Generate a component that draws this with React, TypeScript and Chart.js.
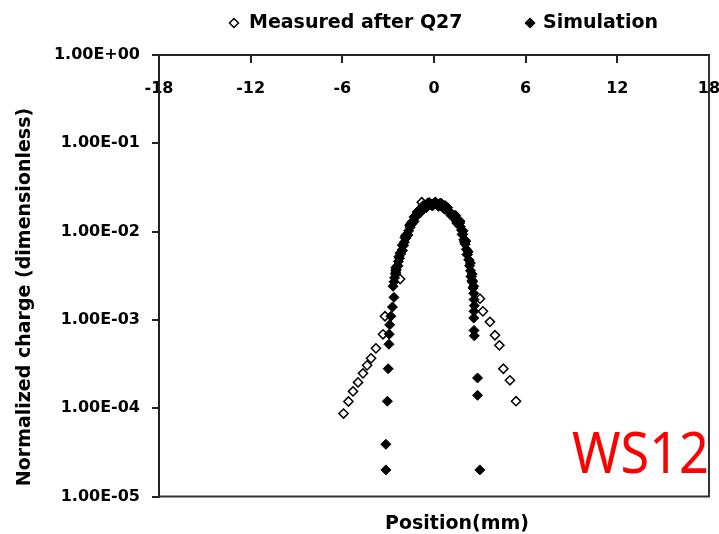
import React, { useEffect, useRef } from 'react';
import { Chart, registerables } from 'chart.js';

Chart.register(...registerables);

// Axis ticks
const xTickValues = [-18, -12, -6, 0, 6, 12, 18];
const yTickValues = [1e-5, 1e-4, 1e-3, 1e-2, 1e-1, 1];
const yTickLabels = ['1.00E-05', '1.00E-04', '1.00E-03', '1.00E-02', '1.00E-01', '1.00E+00'];

// Series labels and captions
const seriesLabels = ['Measured after Q27', 'Simulation'];
const xTitle = 'Position(mm)';
const yTitle = 'Normalized charge (dimensionless)';
const stampText = 'WS12';

// Measured profile after Q27 (position in mm, normalized charge)
const measuredX = [
  -5.92, -5.6, -5.3, -4.97, -4.65, -4.38, -4.12, -3.8, -3.34, -3.21,
  -2.5, -2.22, -2.0, -1.5, -1.0, -0.8, -0.5, 0.0, 0.5, 1.0, 1.5, 2.0, 2.5,
  3.01, 3.2, 3.66, 3.99, 4.28, 4.54, 4.97, 5.37,
];
const measuredY = [
  8.7e-5, 1.19e-4, 1.55e-4, 1.96e-4, 2.48e-4, 3.06e-4, 3.67e-4, 4.76e-4, 6.87e-4, 1.1e-3,
  3.4e-3, 2.9e-3, 7.0e-3, 1.2e-2, 1.65e-2, 2.15e-2, 1.95e-2, 2.05e-2, 1.96e-2, 1.68e-2, 1.3e-2, 7.6e-3, 2.8e-3,
  1.74e-3, 1.25e-3, 9.5e-4, 6.7e-4, 5.15e-4, 2.8e-4, 2.07e-4, 1.2e-4,
];

// Simulated profile (position in mm, normalized charge)
const simX = [
  -3.15, -3.15, -3.05, -3.0, -2.95, -2.93, -2.9, -2.82, -2.72, -2.62,
  -2.68, -2.62, -2.58, -2.52, -2.47, -2.4, -2.33, -2.26, -2.18, -2.1,
  -2.02, -1.94, -1.85, -1.76, -1.66, -1.56, -1.46, -1.36, -1.26, -1.16,
  -1.06, -0.96, -0.86, -0.76, -0.66, -0.56, -0.46, -0.36, -0.26, -0.16,
  -0.06, 0.04, 0.14, 0.24, 0.34, 0.44, 0.54, 0.64, 0.74, 0.84,
  0.94, 1.04, 1.14, 1.24, 1.34, 1.44, 1.54, 1.64, 1.72, 1.8,
  1.88, 1.96, 2.04, 2.12, 2.2, 2.27, 2.33, 2.39, 2.45, 2.5,
  2.55, 2.6, 2.62, 2.64, 2.62, 2.6, 2.62, 2.64, 2.85, 2.85, 3.0,
  -2.5, -2.36, -2.22, -2.06, -1.9, -1.71, -1.51, -1.31, -1.11, -0.91,
  -0.71, -0.51, -0.31, -0.11, 0.09, 0.29, 0.49, 0.69, 0.89, 1.09,
  1.29, 1.49, 1.68, 1.84, 2.0, 2.16, 2.3, 2.42, 2.52,
  -2.5, -2.3, -2.08, -1.86, -1.6, -1.3, -0.98, -0.4, 0.4, 0.72,
  2.6, 2.5, 2.38, 2.24, 2.08, 1.9, 1.7, 1.42,
];
const simY = [
  2.0e-5, 3.9e-5, 1.2e-4, 2.8e-4, 5.3e-4, 6.9e-4, 8.8e-4, 1.1e-3, 1.4e-3, 1.8e-3,
  2.4e-3, 2.7e-3, 3.0e-3, 3.3e-3, 3.7e-3, 4.1e-3, 4.6e-3, 5.0e-3, 5.6e-3, 6.2e-3,
  6.9e-3, 7.6e-3, 8.4e-3, 9.2e-3, 1.02e-2, 1.12e-2, 1.23e-2, 1.33e-2, 1.43e-2, 1.52e-2,
  1.61e-2, 1.69e-2, 1.76e-2, 1.83e-2, 1.89e-2, 1.94e-2, 1.98e-2, 2.01e-2, 2.03e-2, 2.05e-2,
  2.06e-2, 2.06e-2, 2.05e-2, 2.04e-2, 2.02e-2, 1.99e-2, 1.95e-2, 1.91e-2, 1.86e-2, 1.8e-2,
  1.73e-2, 1.66e-2, 1.58e-2, 1.5e-2, 1.42e-2, 1.35e-2, 1.29e-2, 1.23e-2, 1.14e-2, 1.04e-2,
  9.3e-3, 8.1e-3, 7.2e-3, 6.3e-3, 5.5e-3, 4.8e-3, 4.1e-3, 3.6e-3, 3.1e-3, 2.7e-3,
  2.3e-3, 2.0e-3, 1.7e-3, 1.45e-3, 1.25e-3, 1.05e-3, 7.6e-4, 6.6e-4, 2.2e-4, 1.4e-4, 2.0e-5,
  3.6e-3, 4.1e-3, 5.7e-3, 6.1e-3, 8.6e-3, 9.1e-3, 1.25e-2, 1.3e-2, 1.66e-2, 1.63e-2,
  1.97e-2, 1.86e-2, 2.13e-2, 1.95e-2, 2.17e-2, 1.93e-2, 2.08e-2, 1.79e-2, 1.87e-2, 1.54e-2,
  1.54e-2, 1.25e-2, 1.25e-2, 9.3e-3, 8.1e-3, 5.5e-3, 4.75e-3, 3.1e-3, 2.7e-3,
  3.9e-3, 5.2e-3, 7.0e-3, 9.0e-3, 1.18e-2, 1.47e-2, 1.75e-2, 2.12e-2, 2.1e-2, 1.98e-2,
  2.4e-3, 3.3e-3, 4.4e-3, 5.9e-3, 7.8e-3, 1.02e-2, 1.31e-2, 1.52e-2,
];

const toPoints = (xs: number[], ys: number[]) => xs.map((x, i) => ({ x, y: ys[i] }));

const FONT = 'DejaVu Sans';

function drawDiamond(ctx: CanvasRenderingContext2D, cx: number, cy: number, r: number, filled: boolean) {
  ctx.beginPath();
  ctx.moveTo(cx - r, cy);
  ctx.lineTo(cx, cy - r);
  ctx.lineTo(cx + r, cy);
  ctx.lineTo(cx, cy + r);
  ctx.closePath();
  ctx.fillStyle = filled ? '#000' : '#fff';
  ctx.fill();
  ctx.lineWidth = 1.5;
  ctx.strokeStyle = '#000';
  ctx.stroke();
}

// Frame, axis titles, legend and the station stamp
const decorPlugin = {
  id: 'decor',
  afterDatasetsDraw(chart: any) {
    const { ctx, chartArea } = chart;
    ctx.save();
    ctx.strokeStyle = '#333';
    ctx.lineWidth = 2;
    ctx.beginPath();
    ctx.moveTo(chartArea.left, chartArea.bottom);
    ctx.lineTo(chartArea.right, chartArea.bottom);
    ctx.lineTo(chartArea.right, chartArea.top);
    ctx.stroke();
    ctx.restore();
  },
  afterDraw(chart: any) {
    const { ctx } = chart;
    ctx.save();
    ctx.fillStyle = '#000';
    ctx.font = `bold 19px "${FONT}"`;
    ctx.textBaseline = 'middle';
    ctx.textAlign = 'center';

    // axis titles
    ctx.fillText(xTitle, 457, 524);
    ctx.save();
    ctx.translate(25, 297);
    ctx.rotate(-Math.PI / 2);
    ctx.fillText(yTitle, 0, 0);
    ctx.restore();

    // legend
    ctx.textAlign = 'left';
    const legendY = 23;
    drawDiamond(ctx, 234, legendY, 4.5, false);
    ctx.fillStyle = '#000';
    ctx.fillText(seriesLabels[0], 249, legendY);
    drawDiamond(ctx, 530, legendY, 4.5, true);
    ctx.fillStyle = '#000';
    ctx.fillText(seriesLabels[1], 543, legendY);

    // stamp
    ctx.fillStyle = '#ff0000';
    ctx.font = `56px "Noto Sans"`;
    ctx.textBaseline = 'alphabetic';
    ctx.fillText(stampText, 572, 473, 137);
    ctx.restore();
  },
};

export default function App() {
  const canvasRef = useRef<HTMLCanvasElement | null>(null);

  useEffect(() => {
    const canvas = canvasRef.current;
    if (!canvas) return;
    const chart = new Chart(canvas, {
      type: 'scatter',
      data: {
        datasets: [
          {
            label: seriesLabels[0],
            data: toPoints(measuredX, measuredY),
            pointStyle: 'rectRot',
            pointRadius: 4.6,
            pointBackgroundColor: '#fff',
            pointBorderColor: '#000',
            pointBorderWidth: 1.5,
            showLine: false,
            order: 1,
          },
          {
            label: seriesLabels[1],
            data: toPoints(simX, simY),
            pointStyle: 'rectRot',
            pointRadius: 5,
            pointBackgroundColor: '#000',
            pointBorderColor: '#000',
            pointBorderWidth: 1,
            showLine: false,
            order: 0,
          },
        ],
      },
      options: {
        responsive: false,
        animation: false,
        devicePixelRatio: 1,
        layout: { padding: { top: 55, right: 10, bottom: 37.5, left: 0 } },
        plugins: {
          legend: { display: false },
          tooltip: { enabled: false },
        },
        scales: {
          x: {
            type: 'linear',
            position: { y: 1 } as any,
            min: -18,
            max: 18,
            afterBuildTicks: (s: any) => {
              s.ticks = xTickValues.map((v) => ({ value: v }));
            },
            afterFit: (s: any) => {
              s.paddingLeft = 0;
              s.paddingRight = 0;
            },
            ticks: {
              autoSkip: false,
              maxRotation: 0,
              padding: 17,
              color: '#000',
              font: { family: FONT, size: 16, weight: 'bold' },
              callback: (v: any) => String(v),
            },
            grid: { drawOnChartArea: false, tickLength: 7, color: '#222', lineWidth: 2 },
            border: { display: true, color: '#222', width: 2 },
          },
          y: {
            type: 'logarithmic',
            position: 'left',
            min: 1e-5,
            max: 1,
            afterBuildTicks: (s: any) => {
              s.ticks = yTickValues.map((v) => ({ value: v }));
            },
            afterFit: (s: any) => {
              s.width = 159;
              s.paddingTop = 0;
              s.paddingBottom = 0;
            },
            ticks: {
              autoSkip: false,
              padding: 12,
              color: '#000',
              font: { family: FONT, size: 16, weight: 'bold' },
              callback: (_v: any, i: number) => yTickLabels[i],
            },
            grid: { drawOnChartArea: false, tickLength: 7, color: '#222', lineWidth: 2 },
            border: { display: true, color: '#222', width: 2 },
          },
        },
      },
      plugins: [decorPlugin],
    });
    return () => chart.destroy();
  }, []);

  return (
    <div style={{ position: 'absolute', left: 0, top: 0, width: 719, height: 534, background: '#fff' }}>
      <canvas ref={canvasRef} width={719} height={534} style={{ display: 'block' }} />
    </div>
  );
}
